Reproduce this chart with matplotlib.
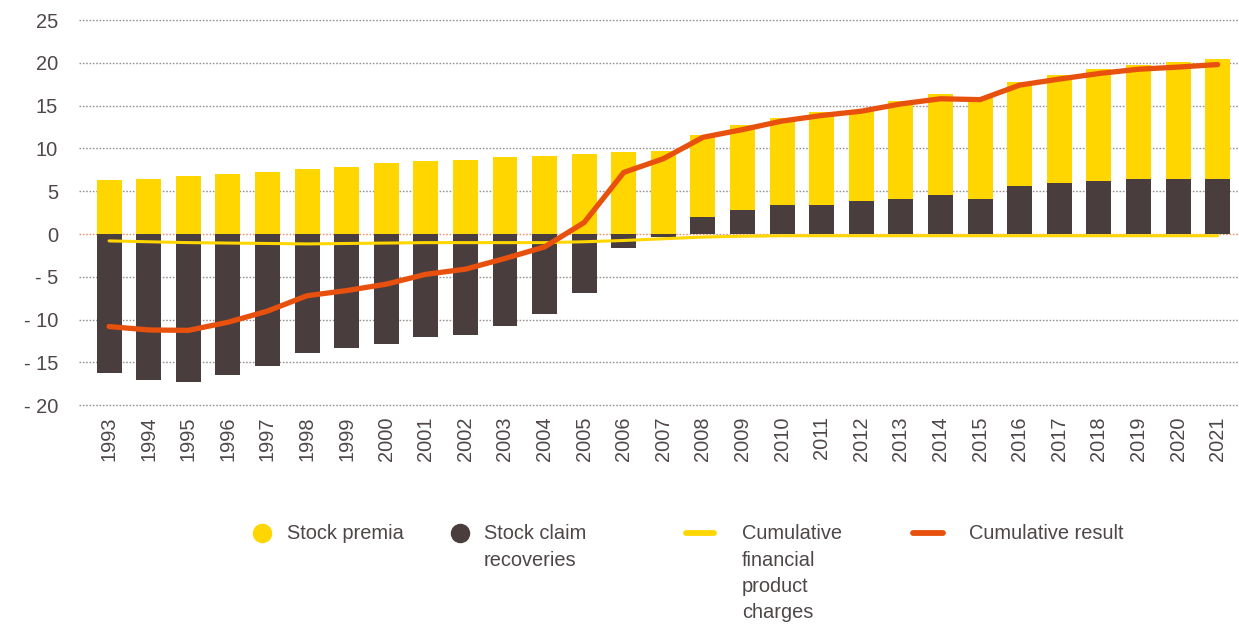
import matplotlib
matplotlib.use("Agg")
import matplotlib.pyplot as plt
from matplotlib.lines import Line2D
import numpy as np

# ---- data (billions) ----
years = list(range(1993, 2022))
stock_premia = [6.3, 6.4, 6.75, 7.0, 7.3, 7.65, 7.8, 8.25, 8.5, 8.7,
                8.95, 9.1, 9.3, 9.55, 9.65, 9.65, 9.9, 10.1, 10.8, 10.5,
                11.4, 11.8, 11.9, 12.2, 12.65, 13.1, 13.25, 13.65, 13.95]
stock_claim_recoveries = [-16.25, -17.0, -17.25, -16.5, -15.45, -13.9, -13.3, -12.85, -12.0, -11.75,
                          -10.75, -9.35, -6.9, -1.65, -0.35, 1.95, 2.8, 3.4, 3.4, 3.9,
                          4.1, 4.6, 4.1, 5.6, 5.95, 6.2, 6.45, 6.45, 6.45]
cum_charges = [-0.8, -0.9, -1.0, -1.05, -1.1, -1.15, -1.1, -1.05, -1.0, -1.0,
               -1.0, -1.0, -0.9, -0.75, -0.55, -0.35, -0.25, -0.2, -0.2, -0.2,
               -0.2, -0.2, -0.2, -0.2, -0.2, -0.2, -0.2, -0.2, -0.2]
cum_result = [-10.8, -11.2, -11.25, -10.3, -9.0, -7.2, -6.6, -5.85, -4.7, -4.1,
              -2.85, -1.5, 1.35, 7.2, 8.8, 11.3, 12.2, 13.2, 13.85, 14.35,
              15.2, 15.8, 15.7, 17.4, 18.1, 18.75, 19.25, 19.5, 19.8]
y_ticks = [25, 20, 15, 10, 5, 0, -5, -10, -15, -20]
legend_labels = ["Stock premia", "Stock claim\nrecoveries",
                 "Cumulative\nfinancial\nproduct\ncharges", "Cumulative result"]

# ---- style ----
YELLOW = "#FFD600"
BROWN = "#4A3D3D"
ORANGE = "#E8500E"
TEXT = "#4F4747"
GRID = "#9C9494"
ZERO = "#F0906E"
FONT = "Liberation Sans"
FS = 14.4

W, H = 1239, 628
fig = plt.figure(figsize=(W / 100, H / 100), dpi=100)
left, right, top, bottom = 79, 1239, 20, 405.3
ax = fig.add_axes([left / W, 1 - bottom / H, (right - left) / W, (bottom - top) / H])

x = np.arange(len(years))
premia = np.array(stock_premia)
claims = np.array(stock_claim_recoveries)
base = np.where(claims > 0, claims, 0)

bw = 0.63
ax.bar(x, claims, width=bw, color=BROWN, zorder=2, linewidth=0)
ax.bar(x, premia, width=bw, bottom=base, color=YELLOW, zorder=2, linewidth=0)

# horizontal guides
for t in y_ticks:
    if t == 0:
        ax.axhline(t, color=ZERO, lw=1.0, ls=(0, (1.2, 1.2)), zorder=1.5, clip_on=False)
    else:
        ax.axhline(t, color=GRID, lw=1.0, ls=(0, (1.2, 1.2)), zorder=1, clip_on=False)

ax.plot(x, cum_charges, color=YELLOW, lw=2.2, zorder=3, solid_capstyle="round")
ax.plot(x, cum_result, color=ORANGE, lw=3.8, zorder=4,
        solid_capstyle="round", solid_joinstyle="round")

ax.set_ylim(-20, 25)
ax.set_xlim(-0.76, 28.54)
ax.set_yticks(y_ticks)
ax.set_yticklabels([str(t) if t >= 0 else f"- {abs(t)}" for t in y_ticks],
                   fontsize=FS, color=TEXT, family=FONT)
ax.set_xticks(x)
ax.set_xticklabels([str(y) for y in years], rotation=90, fontsize=FS,
                   color=TEXT, family=FONT, va="top")
ax.tick_params(axis="both", length=0)
ax.tick_params(axis="y", pad=15)
ax.tick_params(axis="x", pad=8)
for s in ax.spines.values():
    s.set_visible(False)

# ---- legend ----
def fx(px):
    return px / W

def fy(py):
    return 1 - py / H

ly = 533
fig.add_artist(Line2D([fx(262)], [fy(ly)], marker="o", ms=13, color=YELLOW, lw=0))
fig.add_artist(Line2D([fx(460)], [fy(ly)], marker="o", ms=13, color=BROWN, lw=0))
fig.add_artist(Line2D([fx(686), fx(714)], [fy(ly), fy(ly)], color=YELLOW, lw=4.2,
                      solid_capstyle="round"))
fig.add_artist(Line2D([fx(913), fx(943)], [fy(ly), fy(ly)], color=ORANGE, lw=4.2,
                      solid_capstyle="round"))
for px, lab in zip([287, 484, 742, 969], legend_labels):
    fig.text(fx(px), fy(ly - 9), lab, ha="left", va="top", fontsize=FS,
             color=TEXT, family=FONT, linespacing=1.5)

fig.savefig("out.png", dpi=100, facecolor="white")
